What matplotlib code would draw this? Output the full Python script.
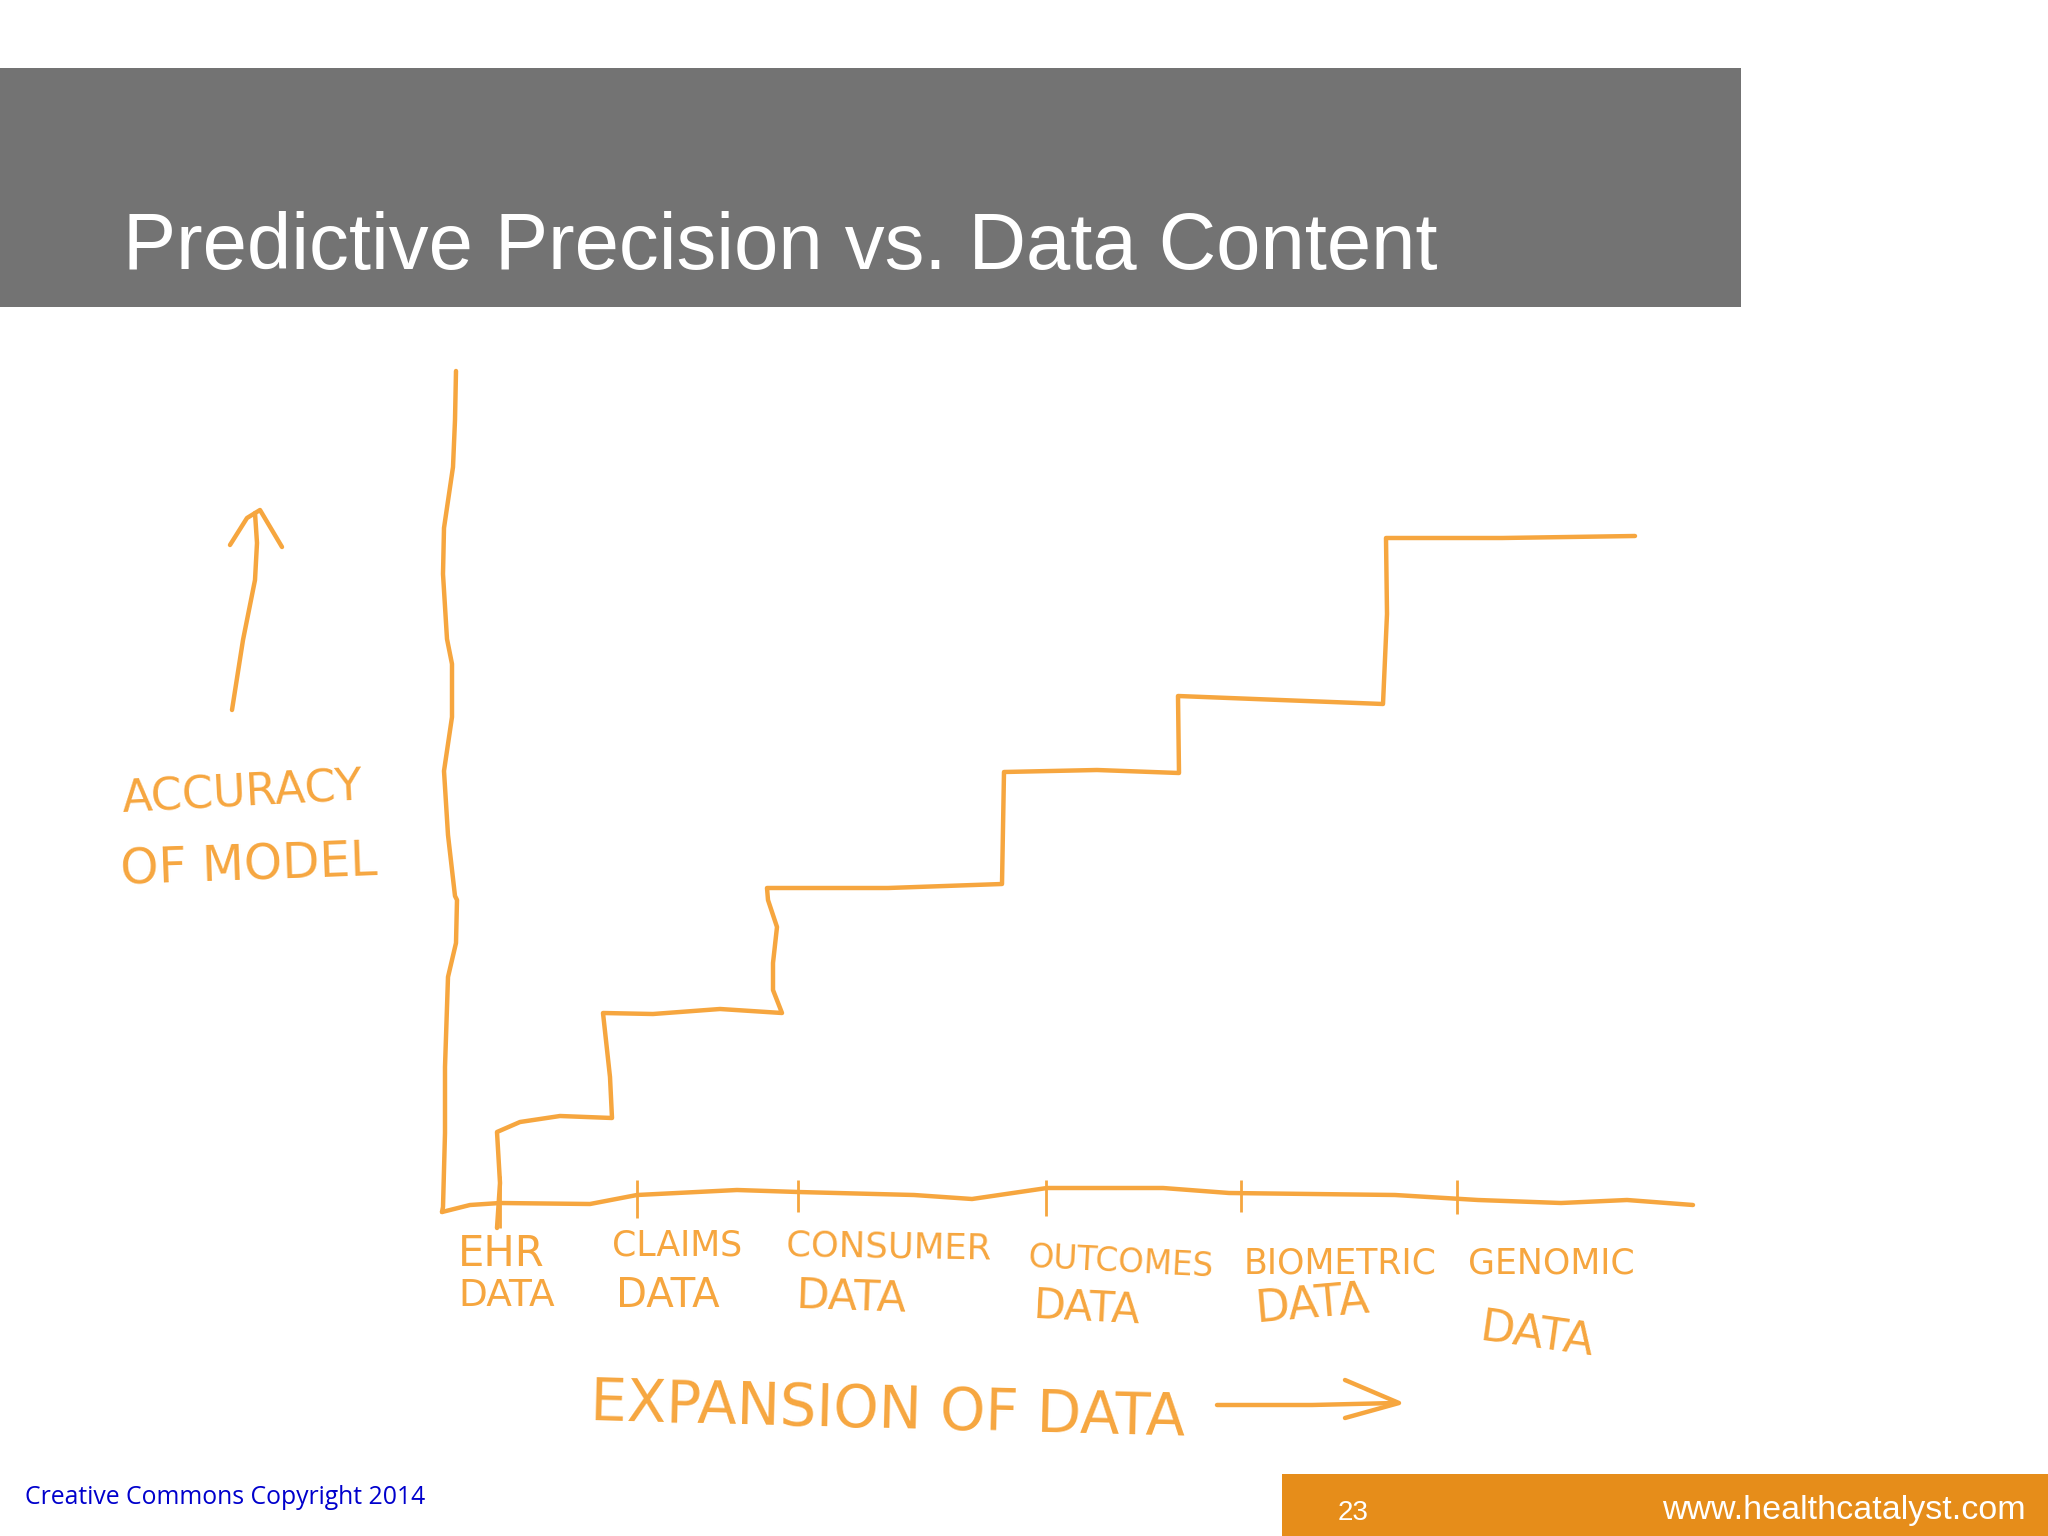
import matplotlib
matplotlib.use("Agg")
import matplotlib.pyplot as plt
from matplotlib.patches import Rectangle

ORANGE = "#f6a63f"

# hand drawn curves (pixels of the 2048x1536 slide)
y_axis_x = [456, 455, 453, 444, 443, 447, 452, 452, 444, 448, 455, 457, 456, 448, 445, 445, 443, 442]
y_axis_y = [371, 420, 467, 528, 574, 639, 664, 717, 771, 835, 896, 900, 943, 977, 1067, 1133, 1207, 1212]

x_axis_x = [442, 470, 500, 590, 637, 737, 798, 914, 972, 1047, 1163, 1229, 1395, 1478, 1561, 1627, 1693]
x_axis_y = [1212, 1205, 1203, 1204, 1195, 1190, 1192, 1195, 1199, 1188, 1188, 1193, 1195, 1200, 1203, 1200, 1205]

step_x = [497, 500, 497, 520, 560, 612, 610, 603, 653, 720, 782, 773, 773, 777, 768, 767, 888, 1002, 1004, 1097, 1179, 1178, 1280, 1383, 1387, 1386, 1502, 1635]
step_y = [1228, 1183, 1132, 1122, 1116, 1118, 1077, 1013, 1014, 1009, 1013, 990, 963, 927, 900, 888, 888, 884, 772, 770, 773, 696, 700, 704, 614, 538, 538, 536]

tick_x = [500, 637, 798, 1046, 1241, 1457]
tick_top = [1176, 1180, 1180, 1180, 1180, 1180]
tick_bottom = [1228, 1218, 1212, 1216, 1212, 1214]

up_arrow_x = [232, 243, 255, 257, 255]
up_arrow_y = [710, 640, 580, 543, 513]
up_head_x = [230, 247, 260, 282]
up_head_y = [545, 518, 510, 547]

right_arrow_x = [1217, 1312, 1395]
right_arrow_y = [1405, 1405, 1403]
right_head_x = [1345, 1399, 1345]
right_head_y = [1380, 1403, 1418]

# hand written labels: text, left x, centre y, size, rotation
label_text = ["ACCURACY", "OF MODEL", "EHR", "DATA", "CLAIMS", "DATA", "CONSUMER", "DATA",
              "OUTCOMES", "DATA", "BIOMETRIC", "DATA", "GENOMIC", "DATA", "EXPANSION OF DATA"]
label_x = [122, 120, 458, 458, 612, 616, 786, 796, 1028, 1034, 1244, 1256, 1468, 1480, 590]
label_y = [800, 871, 1254, 1296, 1246, 1296, 1246, 1296, 1258, 1306, 1264, 1310, 1264, 1328, 1404]
label_size = [32, 35, 30, 27, 25, 29, 25.5, 31, 23.5, 30, 25, 32, 25, 32, 41.5]
label_rot = [3, 2, 0, 0, 0, 0, -1, -2, -3, -3, 0, 5, 0, -8, -1.5]

fig = plt.figure(figsize=(20.48, 15.36), dpi=100)
ax = fig.add_axes([0, 0, 1, 1])
ax.set_xlim(0, 2048)
ax.set_ylim(1536, 0)
ax.axis("off")

# slide furniture
ax.add_patch(Rectangle((0, 68), 1741, 239, color="#737373", lw=0))
ax.add_patch(Rectangle((1282, 1474), 766, 62, color="#e68d1a", lw=0))
ax.text(123, 249, "Predictive Precision vs. Data Content", color="white", fontsize=57.3,
        family="Liberation Sans", va="center", ha="left")
ax.text(25, 1498, "Creative Commons Copyright 2014", color="#0000cc", fontsize=17.8,
        family="Open Sans", va="center", ha="left")
ax.text(1353, 1513, "23", color="white", fontsize=20, family="Liberation Sans", va="center", ha="center")
ax.text(2026, 1511, "www.healthcatalyst.com", color="white", fontsize=24.5,
        family="Liberation Sans", va="center", ha="right")

# the sketch
for xs, ys in [(y_axis_x, y_axis_y), (x_axis_x, x_axis_y), (step_x, step_y),
               (up_arrow_x, up_arrow_y), (up_head_x, up_head_y),
               (right_arrow_x, right_arrow_y), (right_head_x, right_head_y)]:
    ax.plot(xs, ys, color=ORANGE, lw=3.2, solid_capstyle="round", solid_joinstyle="round")
ax.vlines(tick_x, tick_top, tick_bottom, color=ORANGE, lw=2)

for i in range(len(label_text)):
    ax.text(label_x[i], label_y[i], label_text[i], color=ORANGE, fontsize=label_size[i],
            rotation=label_rot[i], rotation_mode="anchor", family="DejaVu Sans",
            va="center", ha="left")

fig.savefig("out.png", dpi=100)
